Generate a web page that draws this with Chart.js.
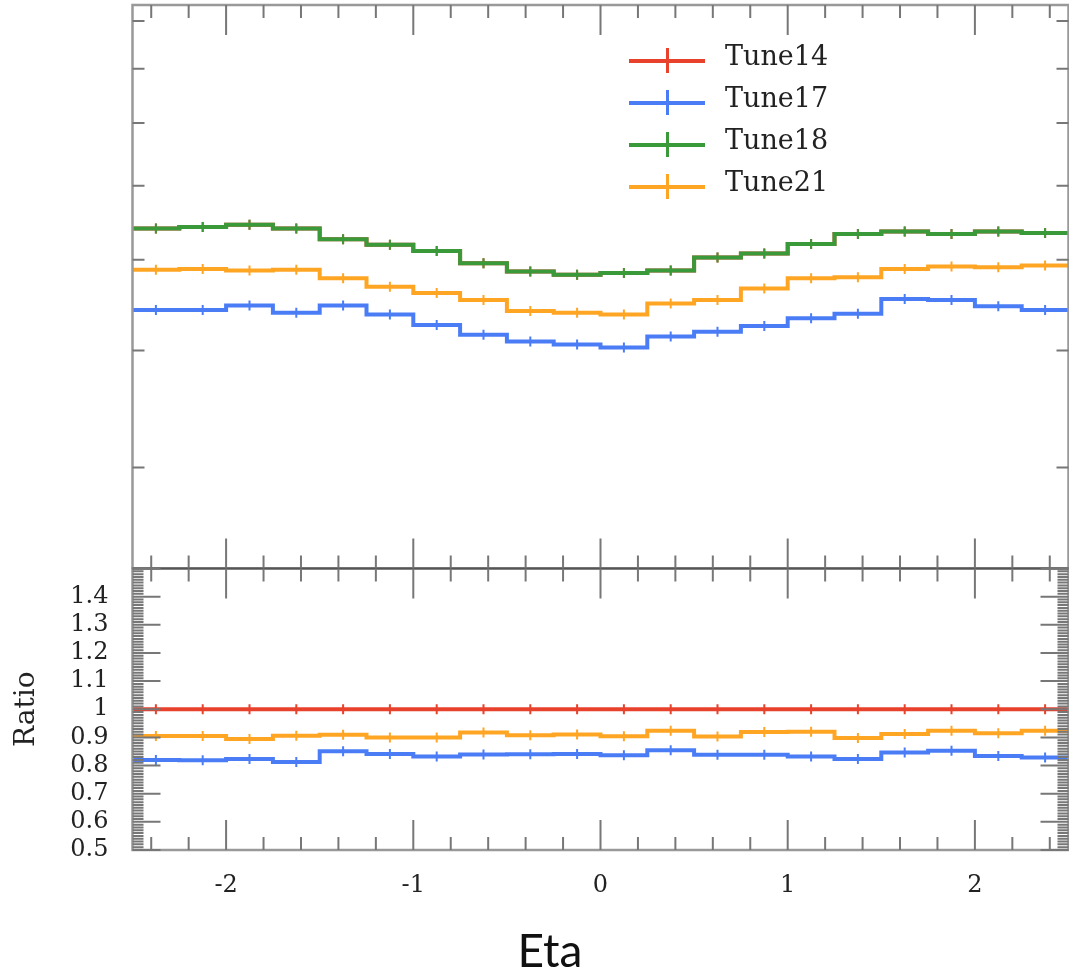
<!DOCTYPE html>
<html lang="en">
<head>
  <meta charset="UTF-8" />
  <title>Eta - Tune comparison</title>
  <script src="https://cdn.jsdelivr.net/npm/chart.js"></script>
  <style>
    body { margin: 0; background: #fff; }
    #wrap { position: relative; width: 1069px; height: 980px; overflow: hidden; }
    .box { position: absolute; left: 0; width: 1069px; }
    #legend { position: absolute; left: 629px; top: 40px; }
    .item { position: relative; height: 42px; width: 220px; }
    .item .h { position: absolute; left: 0; top: 19px; width: 76px; height: 4px; }
    .item .v { position: absolute; left: 37px; top: 8px; width: 3px; height: 25px; }
    .item span { position: absolute; left: 96px; top: 0; line-height: 46px;
                 font: 27px "DejaVu Serif", serif; color: #222; }
    #eta { position: absolute; left: 0; top: 927px; width: 1100px; text-align: center;
           font: 46px Lato, "Open Sans", sans-serif; line-height: 46px; color: #111; }
  </style>
</head>
<body>
<div id="wrap">
  <div class="box" style="top:0;height:569px"><canvas id="topChart"></canvas></div>
  <div class="box" style="top:560px;height:360px"><canvas id="ratioChart"></canvas></div>
  <div id="legend"></div>
  <div id="eta">Eta</div>
</div>

<script>
  // ---- data ----
  const binCenters = [-2.375, -2.125, -1.875, -1.625, -1.375, -1.125, -0.875, -0.625, -0.375, -0.125,
                      0.125, 0.375, 0.625, 0.875, 1.125, 1.375, 1.625, 1.875, 2.125, 2.375];
  const xTickLabels = [-2, -1, 0, 1, 2];
  const topYTicks = [3, 4, 5, 6, 7, 8, 9];
  const ratioTickLabels = [0.5, 0.6, 0.7, 0.8, 0.9, 1, 1.1, 1.2, 1.3, 1.4];

  // top panel (log scale, no labels on the axis)
  const tune18 = [5.40, 5.42, 5.45, 5.40, 5.26, 5.19, 5.11, 4.96, 4.86, 4.82,
                  4.84, 4.87, 5.03, 5.08, 5.20, 5.33, 5.36, 5.33, 5.36, 5.34];
  const tune21 = [4.88, 4.89, 4.87, 4.88, 4.78, 4.68, 4.61, 4.53, 4.41, 4.39,
                  4.37, 4.49, 4.53, 4.66, 4.78, 4.79, 4.89, 4.92, 4.91, 4.93];
  const tune17 = [4.42, 4.42, 4.47, 4.39, 4.47, 4.37, 4.26, 4.16, 4.09, 4.06,
                  4.03, 4.14, 4.19, 4.25, 4.33, 4.38, 4.54, 4.53, 4.46, 4.42];
  const tune14 = tune18; // ratio panel shows Tune18 == Tune14, drawn underneath

  // ratio panel
  const ratio14 = [1, 1, 1, 1, 1, 1, 1, 1, 1, 1, 1, 1, 1, 1, 1, 1, 1, 1, 1, 1];
  const ratio21 = [0.905, 0.905, 0.894, 0.906, 0.909, 0.900, 0.900, 0.917, 0.908, 0.910,
                   0.904, 0.924, 0.903, 0.919, 0.920, 0.898, 0.912, 0.924, 0.915, 0.924];
  const ratio17 = [0.820, 0.819, 0.823, 0.813, 0.851, 0.841, 0.832, 0.839, 0.840, 0.841,
                   0.837, 0.854, 0.838, 0.838, 0.832, 0.823, 0.846, 0.853, 0.834, 0.829];

  const colors = { Tune14: "#e8412c", Tune17: "#4a7df5", Tune18: "#3a9a3a", Tune21: "#ffa524" };
  const xMin = -2.5, xMax = 2.5;

  // step histogram: bin centres plus the two outer edges
  function stepData(vals) {
    const pts = binCenters.map((c, i) => ({ x: c, y: vals[i] }));
    pts.unshift({ x: xMin, y: vals[0] });
    pts.push({ x: xMax, y: vals[vals.length - 1] });
    return pts;
  }

  function series(label, vals, order) {
    return {
      label: label,
      data: stepData(vals),
      stepped: "middle",
      borderColor: colors[label],
      backgroundColor: colors[label],
      borderWidth: 4,
      pointStyle: "line",
      rotation: 90,
      pointBorderWidth: 2,
      pointRadius: ctx => (ctx.dataIndex === 0 || ctx.dataIndex === vals.length + 1) ? 0 : 5,
      order: order
    };
  }

  // x ticks every 0.2, long at integers
  const xTicks = [];
  for (let i = -12; i <= 12; i++) xTicks.push({ v: i / 5, len: i % 5 === 0 ? 30 : 13 });
  const ratioTicks = [];
  for (let i = 50; i <= 150; i++) ratioTicks.push({ v: i / 100, len: i % 10 === 0 ? 28 : 11 });
  const logTicks = topYTicks.map(v => ({ v: v, len: 12 }));

  // frame + inward ticks on all four sides
  const frameTicks = {
    id: "frameTicks",
    afterDatasetsDraw(chart, args, opts) {
      const { ctx, chartArea: a, scales } = chart;
      ctx.save();
      ctx.strokeStyle = "#999";
      ctx.lineWidth = 2.5;
      ctx.strokeRect(a.left, a.top, a.right - a.left, a.bottom - a.top);
      ctx.strokeStyle = "#555";
      ctx.lineWidth = 2;
      const dy = opts.divider === "bottom" ? a.bottom : a.top;
      ctx.beginPath(); ctx.moveTo(a.left, dy); ctx.lineTo(a.right, dy); ctx.stroke();

      ctx.strokeStyle = "#777";
      ctx.beginPath();
      opts.xTicks.forEach(t => {
        const px = scales.x.getPixelForValue(t.v);
        ctx.moveTo(px, a.top); ctx.lineTo(px, a.top + t.len);
        ctx.moveTo(px, a.bottom); ctx.lineTo(px, a.bottom - t.len);
      });
      opts.yTicks.forEach(t => {
        const py = scales.y.getPixelForValue(t.v);
        if (py < a.top - 0.5 || py > a.bottom + 0.5) return;
        ctx.moveTo(a.left, py); ctx.lineTo(a.left + t.len, py);
        ctx.moveTo(a.right, py); ctx.lineTo(a.right - t.len, py);
      });
      ctx.stroke();
      ctx.restore();
    }
  };

  const topChart = new Chart(document.getElementById("topChart"), {
    type: "line",
    data: {
      datasets: [
        series("Tune14", tune14, 3),
        series("Tune17", tune17, 1),
        series("Tune18", tune18, 0),
        series("Tune21", tune21, 2)
      ]
    },
    options: {
      responsive: true,
      maintainAspectRatio: false,
      animation: false,
      layout: { padding: { left: 132.5, right: 0.5, top: 5, bottom: 0.5 } },
      scales: {
        x: { type: "linear", min: xMin, max: xMax, display: false },
        y: { type: "logarithmic", min: 2.34, max: 9.36, display: false }
      },
      plugins: {
        legend: { display: false },
        tooltip: { enabled: false },
        frameTicks: { xTicks: xTicks, yTicks: logTicks, divider: "bottom" }
      }
    },
    plugins: [frameTicks]
  });

  new Chart(document.getElementById("ratioChart"), {
    type: "line",
    data: {
      datasets: [
        series("Tune14", ratio14, 0),
        series("Tune17", ratio17, 1),
        series("Tune21", ratio21, 2)
      ]
    },
    options: {
      responsive: true,
      maintainAspectRatio: false,
      animation: false,
      layout: { padding: { left: 0, right: 0.5, top: 8.5, bottom: 0 } },
      scales: {
        x: {
          type: "linear", min: xMin, max: xMax,
          afterBuildTicks: s => { s.ticks = xTickLabels.map(v => ({ value: v })); },
          afterFit: s => { s.height = 70; s.paddingLeft = 0; s.paddingRight = 0; },
          grid: { display: false },
          border: { display: false },
          ticks: { padding: 13, color: "#222", font: { family: "DejaVu Serif", size: 24 },
                   callback: v => String(v) }
        },
        y: {
          min: 0.5, max: 1.5,
          afterBuildTicks: s => { s.ticks = ratioTickLabels.map(v => ({ value: v })); },
          afterFit: s => { s.width = 132.5; s.paddingTop = 0; s.paddingBottom = 0; },
          grid: { display: false },
          border: { display: false },
          ticks: { autoSkip: false, padding: 16, color: "#222", font: { family: "DejaVu Serif", size: 24 },
                   callback: v => String(v) },
          title: {
            display: true, text: "Ratio", color: "#222",
            padding: { top: 10, bottom: 0 },
            font: { family: "DejaVu Serif", size: 28 }
          }
        }
      },
      plugins: {
        legend: { display: false },
        tooltip: { enabled: false },
        frameTicks: { xTicks: xTicks, yTicks: ratioTicks, divider: "top" }
      }
    },
    plugins: [frameTicks]
  });

  // legend built from the top chart's datasets
  const legend = document.getElementById("legend");
  topChart.data.datasets.forEach(ds => {
    const item = document.createElement("div");
    item.className = "item";
    item.innerHTML = '<div class="h" style="background:' + ds.borderColor + '"></div>' +
                     '<div class="v" style="background:' + ds.borderColor + '"></div>' +
                     '<span>' + ds.label + '</span>';
    legend.appendChild(item);
  });
</script>
</body>
</html>
